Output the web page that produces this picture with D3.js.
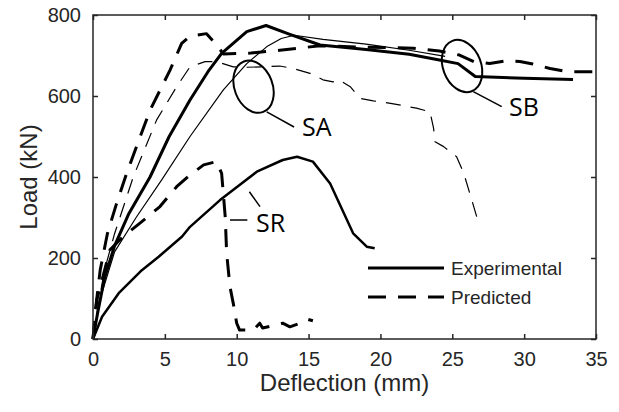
<!DOCTYPE html>
<html>
<head>
<meta charset="utf-8">
<script src="https://cdn.jsdelivr.net/npm/d3@7"></script>
<style>
  body { margin: 0; background: #fff; }
  text { font-family: "Liberation Sans", Arial, sans-serif; fill: #262626; }
  .tag { font-family: "Open Sans", "Noto Sans", sans-serif; fill: #000; }
</style>
</head>
<body>
<div id="chart"></div>
<script>
// deflection (mm), load (kN)
var sbExp = [[0,0],[0.3,60],[0.8,150],[1.5,230],[2.5,310],[3.97,400],[5.3,500],[6.75,590],[8,660],[8.95,705],
  [10.7,759],[12.04,774],[13.7,752],[15.8,726],[19,715],[22,703],[24.1,689],[25.4,680],[26.6,648],[30,644],[33.4,641]];
var saExp = [[0,0],[0.5,100],[1.5,215],[3,300],[4.78,393],[6.75,500],[9.07,615],[10.7,680],[12.1,722],[13.1,742],
  [14,750],[16,740],[19,728],[22,713],[24.5,698]];
var sbPred = [[0,0],[0.2,80],[0.5,170],[1,260],[1.6,330],[2.34,409],[3.97,565],[5.36,664],[6.17,730],[6.75,748],
  [7.9,754],[8.5,730],[9.07,704],[11,706],[13,713],[15.8,724],[18.5,721],[22.3,718],[24.1,711],[25.5,701],
  [26.5,685],[27.6,680],[28.8,687],[29.7,685],[30.6,679],[31.8,668],[33,660],[35,660]];
var saPred = [[0,0],[0.3,70],[0.8,170],[1.5,260],[2.8,400],[4.43,541],[5.82,623],[6.75,672],[7.8,685],[8.6,685],
  [9.76,672],[10.7,671],[11.85,672],[13,674],[13.9,668],[15.1,656],[16,640],[16.7,635],[17.1,640],[17.9,623],
  [18.6,594],[19.5,588],[20.7,582],[22.5,570],[23.45,561],[23.7,520],[23.8,487],[24.4,475],[25.3,450],
  [25.8,409],[26.3,350],[26.7,302]];
var srExp = [[0,0],[0.63,55],[1.79,113],[3.4,170],[4.57,203],[6.2,253],[6.75,277],[8.84,343],[11.4,413],
  [13.2,442],[14.2,450],[15.3,438],[16.5,384],[18.1,261],[19.05,228],[19.6,224]];
var srPred = [[0,0],[0.26,96],[1.18,220],[2.1,253],[3.27,286],[4.66,327],[5.82,376],[6.75,405],[7.7,430],
  [8.6,438],[8.95,409],[9.2,302],[9.3,212],[9.53,129],[9.76,88],[10,39],[10.2,22],[11.15,22],[11.6,39],
  [11.8,27],[12.8,35],[13.2,39],[13.7,30],[14.4,39],[14.9,49],[15.3,45]];

var xTicks = [0, 5, 10, 15, 20, 25, 30, 35];
var yTicks = [0, 200, 400, 600, 800];
var legendNames = ["Experimental", "Predicted"];

// annotations, in data units
var tags = [{name: "SA", x: 14.54, y: 501}, {name: "SB", x: 28.95, y: 551}, {name: "SR", x: 11.34, y: 264}];
var rings = [{x: 11.17, y: 623}, {x: 25.68, y: 674}];
var leaders = [[[12.09,561],[13.99,523.5]], [[26.46,610.6],[28.44,573.6]],
  [[9.53,293.8],[10.74,293.8]], [[10.88,363.7],[11.62,326.7]]];

var width = 619, height = 412,
    margin = {top: 15, right: 23, bottom: 73, left: 93},
    w = width - margin.left - margin.right,
    h = height - margin.top - margin.bottom;

var svg = d3.select("#chart").append("svg")
  .attr("width", width)
  .attr("height", height)
  .append("g")
  .attr("transform", `translate(${margin.left},${margin.top})`);

var x = d3.scaleLinear().domain([0, 35]).range([0, w]);
var y = d3.scaleLinear().domain([0, 800]).range([h, 0]);

var line = d3.line().x(d => x(d[0])).y(d => y(d[1]));

var series = [
  {data: srPred, width: 3, dash: "18,12"},
  {data: saPred, width: 1.2, dash: "15,10"},
  {data: sbPred, width: 3, dash: "18,12"},
  {data: srExp, width: 2.5, dash: null},
  {data: saExp, width: 1.2, dash: null},
  {data: sbExp, width: 3, dash: null}
];

svg.selectAll(".curve")
  .data(series)
  .enter().append("path")
  .attr("class", "curve")
  .attr("d", d => line.curve(d3.curveLinear)(d.data))
  .attr("fill", "none")
  .attr("stroke", "#000")
  .attr("stroke-width", d => d.width)
  .attr("stroke-dasharray", d => d.dash)
  .attr("stroke-linejoin", "round");

// ellipses and leader lines
svg.selectAll(".ring")
  .data(rings)
  .enter().append("ellipse")
  .attr("transform", d => `translate(${x(d.x)},${y(d.y)}) rotate(-21)`)
  .attr("rx", 19)
  .attr("ry", 27)
  .attr("fill", "none")
  .attr("stroke", "#000")
  .attr("stroke-width", 2);

svg.selectAll(".leader")
  .data(leaders)
  .enter().append("path")
  .attr("d", line)
  .attr("stroke", "#000")
  .attr("stroke-width", 1.5);

svg.selectAll(".tag")
  .data(tags)
  .enter().append("text")
  .attr("class", "tag")
  .attr("x", d => x(d.x))
  .attr("y", d => y(d.y))
  .style("font-size", "25px")
  .text(d => d.name);

// axes box with inward ticks
var xAxis = d3.axisBottom(x).tickValues(xTicks).tickSizeInner(-5).tickSizeOuter(0).tickPadding(13);
var yAxis = d3.axisLeft(y).tickValues(yTicks).tickSizeInner(-5).tickSizeOuter(0).tickPadding(12);

svg.append("g").attr("transform", `translate(0,${h})`).call(xAxis);
svg.append("g").call(yAxis);
svg.append("g").call(d3.axisTop(x).tickValues(xTicks).tickSizeInner(-5).tickSizeOuter(0).tickFormat(""));
svg.append("g").attr("transform", `translate(${w},0)`)
  .call(d3.axisRight(y).tickValues(yTicks).tickSizeInner(-5).tickSizeOuter(0).tickFormat(""));

svg.selectAll(".domain").remove();
svg.selectAll(".tick line").attr("stroke", "#262626").attr("stroke-width", 1.5);
svg.selectAll(".tick text").style("font-size", "20px").attr("fill", "#262626");

svg.append("rect")
  .attr("width", w)
  .attr("height", h)
  .attr("fill", "none")
  .attr("stroke", "#262626")
  .attr("stroke-width", 1.5);

svg.append("text")
  .attr("x", w / 2)
  .attr("y", h + 52)
  .style("text-anchor", "middle")
  .style("font-size", "24px")
  .text("Deflection (mm)");

svg.append("text")
  .attr("transform", "rotate(-90)")
  .attr("x", -h / 2)
  .attr("y", -56)
  .style("text-anchor", "middle")
  .style("font-size", "24px")
  .text("Load (kN)");

// legend
var legend = svg.selectAll(".legend")
  .data(legendNames)
  .enter().append("g")
  .attr("transform", (d, i) => `translate(275,${253 + i * 29})`);

legend.append("line")
  .attr("x1", 0).attr("x2", 76)
  .attr("stroke", "#000")
  .attr("stroke-width", 3)
  .attr("stroke-dasharray", (d, i) => i ? "18,12" : null);

legend.append("text")
  .attr("x", 83)
  .attr("dy", "0.35em")
  .style("font-size", "19px")
  .text(d => d);
</script>
</body>
</html>
